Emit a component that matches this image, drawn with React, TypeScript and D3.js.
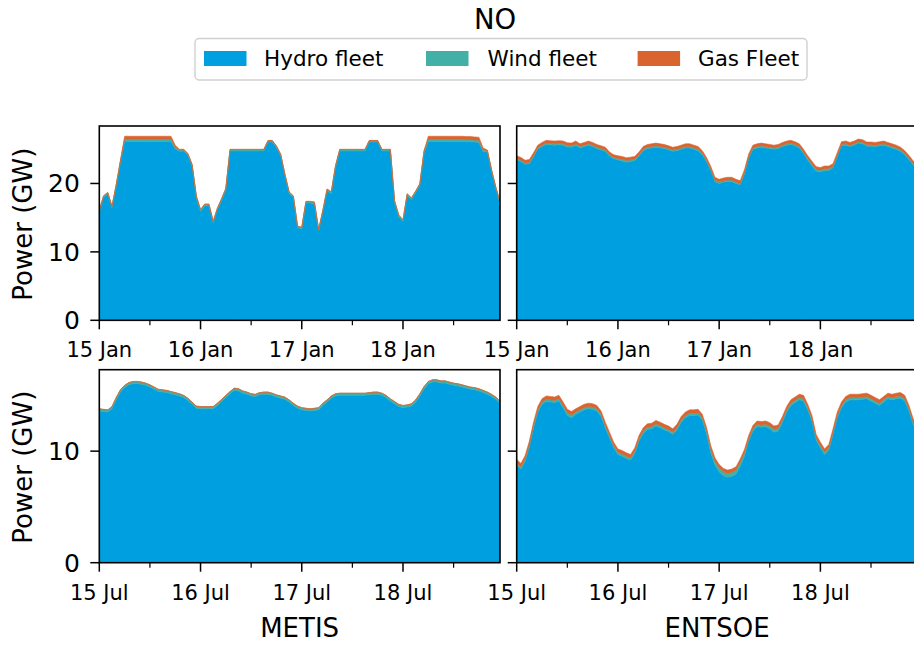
import React from "react";
import * as d3 from "d3";

// ---------- data (GW, hourly from 00:00 of the first day) ----------
const SERIES_NAMES = ["Hydro fleet", "Wind fleet", "Gas Fleet"];
const SERIES_KEYS = ["hydro", "wind", "gas"];
const SERIES_COLORS = ["#00a0e0", "#43b0a8", "#da6430"];

const ROW_STARTS = ["2015-01-15T00:00:00Z", "2015-07-15T00:00:00Z"];
const COL_LABELS = ["METIS", "ENTSOE"];
const ROW_Y_MAX = [28.4, 17.3];
const ROW_Y_TICKS = [[0, 10, 20], [0, 10]];

// January, METIS
const JAN_METIS_HYDRO = [
  15.85, 17.95, 18.45, 16.45, 19.55, 23.0, 26.15, 26.15, 26.15, 26.15, 26.15, 26.15,
  26.15, 26.15, 26.15, 26.15, 26.15, 26.15, 25.05, 24.7, 24.75, 24.15, 22.55, 17.95,
  15.95, 16.75, 16.75, 14.25, 16.15, 17.55, 19.05, 24.75, 24.75, 24.75, 24.75, 24.75,
  24.75, 24.75, 24.75, 24.75, 26.05, 26.05, 25.25, 24.05, 21.15, 18.55, 17.95, 13.55,
  13.35, 17.15, 17.15, 17.05, 13.05, 15.85, 18.95, 18.55, 22.35, 24.75, 24.75, 24.75,
  24.75, 24.75, 24.75, 24.75, 26.05, 26.05, 26.05, 24.75, 24.75, 24.75, 17.25, 15.15,
  14.45, 18.25, 17.65, 18.65, 19.75, 24.5, 26.15, 26.15, 26.15, 26.15, 26.15, 26.15,
  26.15, 26.15, 26.15, 26.1, 26.1, 26.05, 26.0, 24.65, 24.6, 21.75, 19.25, 17.15,
];
const JAN_METIS_WIND = [
  0.2, 0.2, 0.2, 0.2, 0.2, 0.25, 0.3, 0.3, 0.3, 0.3, 0.3, 0.3,
  0.3, 0.3, 0.3, 0.3, 0.3, 0.3, 0.25, 0.2, 0.2, 0.2, 0.2, 0.2,
  0.2, 0.2, 0.2, 0.2, 0.2, 0.2, 0.2, 0.2, 0.2, 0.2, 0.2, 0.2,
  0.2, 0.2, 0.2, 0.2, 0.2, 0.2, 0.2, 0.2, 0.2, 0.2, 0.2, 0.2,
  0.2, 0.2, 0.2, 0.2, 0.2, 0.2, 0.2, 0.2, 0.2, 0.2, 0.2, 0.2,
  0.2, 0.2, 0.2, 0.2, 0.2, 0.2, 0.2, 0.2, 0.2, 0.2, 0.2, 0.2,
  0.2, 0.2, 0.2, 0.2, 0.2, 0.25, 0.3, 0.3, 0.3, 0.3, 0.3, 0.3,
  0.3, 0.3, 0.3, 0.3, 0.3, 0.3, 0.3, 0.25, 0.2, 0.2, 0.2, 0.2,
];
const JAN_METIS_GAS = [
  0.05, 0.05, 0.05, 0.05, 0.05, 0.05, 0.45, 0.45, 0.45, 0.45, 0.45, 0.45,
  0.45, 0.45, 0.45, 0.45, 0.45, 0.45, 0.3, 0.1, 0.05, 0.05, 0.05, 0.05,
  0.05, 0.05, 0.05, 0.05, 0.05, 0.05, 0.05, 0.05, 0.05, 0.05, 0.05, 0.05,
  0.05, 0.05, 0.05, 0.05, 0.05, 0.05, 0.05, 0.05, 0.05, 0.05, 0.05, 0.05,
  0.05, 0.05, 0.05, 0.05, 0.05, 0.05, 0.05, 0.05, 0.05, 0.05, 0.05, 0.05,
  0.05, 0.05, 0.05, 0.05, 0.05, 0.05, 0.05, 0.05, 0.05, 0.05, 0.05, 0.05,
  0.05, 0.05, 0.05, 0.05, 0.05, 0.05, 0.45, 0.45, 0.45, 0.45, 0.45, 0.45,
  0.45, 0.45, 0.45, 0.45, 0.45, 0.45, 0.45, 0.3, 0.1, 0.05, 0.05, 0.05,
];

// January, ENTSOE
const JAN_ENTSOE_HYDRO = [
  23.45, 23.2, 22.8, 22.9, 23.9, 25.0, 25.4, 25.7, 25.65, 25.6, 25.65, 25.6,
  25.35, 25.3, 25.6, 25.2, 25.4, 25.6, 25.4, 25.1, 24.9, 24.7, 24.0, 23.6,
  23.45, 23.3, 23.1, 23.2, 23.35, 24.0, 24.8, 25.1, 25.2, 25.3, 25.2, 25.1,
  24.9, 24.7, 24.8, 25.0, 25.2, 25.2, 25.0, 24.8, 24.2, 23.2, 21.9, 20.3,
  20.0, 20.2, 20.3, 20.3, 20.0, 19.8, 21.4, 23.7, 25.0, 25.2, 25.3, 25.2,
  25.1, 25.0, 25.1, 25.4, 25.6, 25.7, 25.5, 25.2, 24.4, 23.4, 22.6, 21.8,
  21.7, 21.9, 21.9, 22.3, 23.9, 25.5, 25.6, 25.4, 25.6, 25.9, 25.8, 25.45,
  25.45, 25.4, 25.5, 25.6, 25.4, 25.2, 25.0, 24.7, 24.2, 23.5, 22.7, 22.2,
];
const JAN_ENTSOE_WIND = [
  0.2, 0.2, 0.2, 0.2, 0.2, 0.2, 0.2, 0.2, 0.2, 0.2, 0.2, 0.2,
  0.2, 0.2, 0.2, 0.2, 0.2, 0.2, 0.2, 0.2, 0.2, 0.2, 0.2, 0.2,
  0.2, 0.25, 0.25, 0.25, 0.2, 0.2, 0.2, 0.2, 0.2, 0.2, 0.2, 0.2,
  0.2, 0.2, 0.2, 0.2, 0.2, 0.2, 0.2, 0.2, 0.2, 0.2, 0.2, 0.2,
  0.2, 0.2, 0.2, 0.2, 0.2, 0.2, 0.2, 0.2, 0.2, 0.2, 0.2, 0.2,
  0.2, 0.2, 0.2, 0.2, 0.2, 0.2, 0.2, 0.2, 0.2, 0.25, 0.25, 0.25,
  0.25, 0.25, 0.25, 0.2, 0.2, 0.2, 0.2, 0.2, 0.2, 0.2, 0.2, 0.2,
  0.2, 0.2, 0.2, 0.2, 0.2, 0.2, 0.2, 0.2, 0.2, 0.2, 0.2, 0.2,
];
const JAN_ENTSOE_GAS = [
  0.4, 0.4, 0.4, 0.4, 0.4, 0.4, 0.4, 0.4, 0.4, 0.4, 0.4, 0.4,
  0.4, 0.4, 0.4, 0.4, 0.4, 0.4, 0.4, 0.4, 0.4, 0.4, 0.4, 0.4,
  0.4, 0.4, 0.4, 0.4, 0.4, 0.4, 0.4, 0.4, 0.4, 0.4, 0.4, 0.4,
  0.4, 0.4, 0.4, 0.4, 0.4, 0.4, 0.4, 0.4, 0.4, 0.4, 0.4, 0.4,
  0.4, 0.4, 0.4, 0.4, 0.4, 0.4, 0.4, 0.4, 0.4, 0.4, 0.4, 0.4,
  0.4, 0.4, 0.4, 0.4, 0.4, 0.4, 0.4, 0.4, 0.4, 0.4, 0.4, 0.4,
  0.4, 0.4, 0.4, 0.4, 0.4, 0.4, 0.4, 0.4, 0.4, 0.4, 0.4, 0.4,
  0.4, 0.4, 0.4, 0.4, 0.4, 0.4, 0.4, 0.4, 0.4, 0.4, 0.4, 0.4,
];

// July, METIS
const JUL_METIS_HYDRO = [
  13.6, 13.55, 13.5, 13.8, 14.6, 15.3, 15.7, 15.95, 16.05, 16.05, 16.0, 15.9,
  15.75, 15.55, 15.35, 15.3, 15.25, 15.15, 15.05, 14.95, 14.8, 14.55, 14.2, 13.85,
  13.8, 13.8, 13.8, 13.8, 14.1, 14.45, 14.8, 15.15, 15.45, 15.4, 15.2, 15.1,
  14.95, 14.9, 15.05, 15.1, 15.1, 15.0, 14.85, 14.75, 14.65, 14.4, 14.1, 13.85,
  13.7, 13.65, 13.6, 13.65, 13.7, 14.1, 14.4, 14.75, 14.95, 15.0, 15.0, 15.0,
  15.0, 15.0, 15.0, 15.0, 15.05, 15.1, 15.1, 15.0, 14.8, 14.5, 14.25, 14.0,
  13.9, 13.95, 14.05, 14.4, 14.95, 15.6, 16.05, 16.2, 16.2, 16.1, 16.1, 16.0,
  15.9, 15.85, 15.75, 15.65, 15.55, 15.5, 15.4, 15.25, 15.1, 14.9, 14.65, 14.3,
];
const JUL_METIS_WIND = [
  0.18, 0.18, 0.18, 0.18, 0.18, 0.18, 0.18, 0.18, 0.18, 0.18, 0.18, 0.18,
  0.18, 0.18, 0.18, 0.18, 0.18, 0.18, 0.18, 0.18, 0.18, 0.18, 0.18, 0.18,
  0.18, 0.18, 0.18, 0.18, 0.18, 0.18, 0.18, 0.18, 0.18, 0.18, 0.18, 0.18,
  0.18, 0.18, 0.18, 0.18, 0.18, 0.18, 0.18, 0.18, 0.18, 0.18, 0.18, 0.18,
  0.18, 0.18, 0.18, 0.18, 0.18, 0.18, 0.18, 0.18, 0.18, 0.18, 0.18, 0.18,
  0.18, 0.18, 0.18, 0.18, 0.18, 0.18, 0.18, 0.18, 0.18, 0.18, 0.18, 0.18,
  0.18, 0.18, 0.18, 0.18, 0.18, 0.18, 0.18, 0.18, 0.18, 0.18, 0.18, 0.18,
  0.18, 0.18, 0.18, 0.18, 0.18, 0.18, 0.18, 0.18, 0.18, 0.18, 0.18, 0.18,
];
const JUL_METIS_GAS = [
  0.02, 0.02, 0.02, 0.02, 0.02, 0.02, 0.02, 0.02, 0.02, 0.02, 0.02, 0.02,
  0.02, 0.02, 0.02, 0.02, 0.02, 0.02, 0.02, 0.02, 0.02, 0.02, 0.02, 0.02,
  0.02, 0.02, 0.02, 0.02, 0.02, 0.02, 0.02, 0.02, 0.02, 0.02, 0.02, 0.02,
  0.02, 0.02, 0.02, 0.02, 0.02, 0.02, 0.02, 0.02, 0.02, 0.02, 0.02, 0.02,
  0.02, 0.02, 0.02, 0.02, 0.02, 0.02, 0.02, 0.02, 0.02, 0.02, 0.02, 0.02,
  0.02, 0.02, 0.02, 0.02, 0.02, 0.02, 0.02, 0.02, 0.02, 0.02, 0.02, 0.02,
  0.02, 0.02, 0.02, 0.02, 0.02, 0.02, 0.02, 0.02, 0.02, 0.02, 0.02, 0.02,
  0.02, 0.02, 0.02, 0.02, 0.02, 0.02, 0.02, 0.02, 0.02, 0.02, 0.02, 0.02,
];

// July, ENTSOE
const JUL_ENTSOE_HYDRO = [
  8.76, 8.4, 9.1, 10.4, 12.1, 13.5, 14.2, 14.45, 14.4, 14.35, 14.5, 13.9,
  13.2, 13.0, 13.3, 13.5, 13.7, 13.8, 13.75, 13.6, 13.1, 12.1, 11.2, 10.3,
  9.7, 9.55, 9.35, 9.2, 9.8, 10.9, 11.6, 11.95, 12.0, 12.25, 12.1, 11.9,
  11.75, 11.5, 11.9, 12.6, 13.0, 13.2, 13.2, 13.25, 12.8, 11.6, 9.85, 8.75,
  8.15, 7.8, 7.65, 7.75, 7.95, 8.65, 9.55, 10.9, 11.8, 12.2, 12.15, 12.2,
  12.0, 11.7, 11.8, 12.6, 13.5, 14.1, 14.35, 14.6, 14.5, 13.7, 12.7, 11.0,
  10.3, 9.7, 10.1, 11.5, 13.0, 13.9, 14.4, 14.6, 14.6, 14.6, 14.65, 14.7,
  14.5, 14.3, 14.1, 14.4, 14.7, 14.6, 14.7, 14.75, 14.5, 13.6, 12.4, 11.8,
];
const JUL_ENTSOE_WIND = [
  0.2, 0.2, 0.2, 0.2, 0.2, 0.2, 0.2, 0.2, 0.2, 0.2, 0.2, 0.2,
  0.25, 0.25, 0.2, 0.2, 0.2, 0.2, 0.2, 0.2, 0.2, 0.2, 0.2, 0.2,
  0.2, 0.2, 0.2, 0.2, 0.2, 0.2, 0.2, 0.2, 0.2, 0.2, 0.2, 0.2,
  0.2, 0.2, 0.2, 0.2, 0.2, 0.2, 0.2, 0.2, 0.2, 0.25, 0.35, 0.35,
  0.35, 0.35, 0.35, 0.35, 0.35, 0.35, 0.3, 0.2, 0.2, 0.2, 0.2, 0.2,
  0.25, 0.25, 0.25, 0.2, 0.2, 0.2, 0.2, 0.2, 0.2, 0.2, 0.2, 0.2,
  0.2, 0.2, 0.2, 0.2, 0.2, 0.2, 0.2, 0.2, 0.2, 0.2, 0.2, 0.2,
  0.2, 0.2, 0.2, 0.2, 0.2, 0.2, 0.2, 0.2, 0.2, 0.2, 0.2, 0.2,
];
const JUL_ENTSOE_GAS = [
  0.3, 0.3, 0.3, 0.3, 0.3, 0.3, 0.3, 0.3, 0.3, 0.3, 0.3, 0.3,
  0.3, 0.3, 0.3, 0.3, 0.3, 0.3, 0.3, 0.3, 0.3, 0.3, 0.3, 0.3,
  0.3, 0.3, 0.3, 0.3, 0.3, 0.3, 0.3, 0.3, 0.3, 0.3, 0.3, 0.3,
  0.3, 0.3, 0.3, 0.3, 0.3, 0.3, 0.3, 0.3, 0.3, 0.3, 0.3, 0.3,
  0.3, 0.3, 0.3, 0.3, 0.3, 0.3, 0.3, 0.3, 0.3, 0.3, 0.3, 0.3,
  0.3, 0.3, 0.3, 0.3, 0.3, 0.3, 0.3, 0.3, 0.3, 0.3, 0.3, 0.3,
  0.3, 0.3, 0.3, 0.3, 0.3, 0.3, 0.3, 0.3, 0.3, 0.3, 0.3, 0.3,
  0.3, 0.3, 0.3, 0.3, 0.3, 0.3, 0.3, 0.3, 0.3, 0.3, 0.3, 0.3,
];

const PANEL_DATA = [
  [[JAN_METIS_HYDRO, JAN_METIS_WIND, JAN_METIS_GAS], [JAN_ENTSOE_HYDRO, JAN_ENTSOE_WIND, JAN_ENTSOE_GAS]],
  [[JUL_METIS_HYDRO, JUL_METIS_WIND, JUL_METIS_GAS], [JUL_ENTSOE_HYDRO, JUL_ENTSOE_WIND, JUL_ENTSOE_GAS]],
];

// ---------- layout ----------
const W = 914;
const H = 648;
const FONT = "DejaVu Sans, sans-serif";
const COL_X = [99.3, 516.7];
const PANEL_W = 400.7;
const ROW_Y = [
  [126, 320.3],
  [369.7, 562.7],
];
const HOUR = 3600 * 1000;

function Panel({ row, col }: { row: number; col: number }) {
  const [hydro, wind, gas] = PANEL_DATA[row][col];
  const start = new Date(ROW_STARTS[row]).getTime();
  const rows = hydro.map((h, i) => ({
    t: new Date(start + i * HOUR),
    hydro: h,
    wind: wind[i],
    gas: gas[i],
  }));
  const x0 = COL_X[col];
  const x1 = x0 + PANEL_W;
  const [yt, yb] = ROW_Y[row];
  const x = d3
    .scaleUtc()
    .domain([new Date(start), new Date(start + (hydro.length - 1) * HOUR)])
    .range([x0, x1]);
  const y = d3.scaleLinear().domain([0, ROW_Y_MAX[row]]).range([yb, yt]);
  const stack = d3.stack<any>().keys(SERIES_KEYS);
  const layers = stack(rows);
  const area = d3
    .area<any>()
    .x((d) => x(d.data.t))
    .y0((d) => y(d[0]))
    .y1((d) => y(d[1]));
  const [d0, d1] = x.domain();
  const major = d3.utcDay.range(d0, new Date(+d1 + 1)).filter((d) => d >= d0 && d <= d1);
  const minor = d3
    .utcHour.every(12)!
    .range(d0, new Date(+d1 + 1))
    .filter((d) => d.getUTCHours() === 12);
  const fmt = d3.utcFormat("%d %b");
  const clipId = `clip-${row}-${col}`;
  const yTicks = ROW_Y_TICKS[row];
  return (
    <g>
      <defs>
        <clipPath id={clipId}>
          <rect x={x0} y={yt} width={PANEL_W} height={yb - yt} />
        </clipPath>
      </defs>
      <g clipPath={`url(#${clipId})`}>
        {layers.map((layer, i) => (
          <path
            key={i}
            d={area(layer as any) || ""}
            fill={SERIES_COLORS[i]}
            stroke={SERIES_COLORS[i]}
            strokeWidth={0.6}
          />
        ))}
      </g>
      <rect x={x0} y={yt} width={PANEL_W} height={yb - yt} fill="none" stroke="#000" strokeWidth={1.6} />
      {major.map((d, i) => (
        <g key={"M" + i}>
          <line x1={x(d)} x2={x(d)} y1={yb} y2={yb + 9} stroke="#000" strokeWidth={1.5} />
          <text x={x(d)} y={yb + 37} textAnchor="middle" fontSize={21} fontFamily={FONT} fill="#000">
            {fmt(d)}
          </text>
        </g>
      ))}
      {minor.map((d, i) => (
        <line key={"m" + i} x1={x(d)} x2={x(d)} y1={yb} y2={yb + 5} stroke="#000" strokeWidth={1.2} />
      ))}
      {yTicks.map((v) => (
        <g key={"y" + v}>
          <line x1={x0 - 9} x2={x0} y1={y(v)} y2={y(v)} stroke="#000" strokeWidth={1.5} />
          {col === 0 && (
            <text
              x={x0 - 19.5}
              y={y(v)}
              dy="0.36em"
              textAnchor="end"
              fontSize={25}
              fontFamily={FONT}
              fill="#000"
            >
              {v}
            </text>
          )}
        </g>
      ))}
      {col === 0 && (
        <text
          transform={`translate(31.5, ${(yt + yb) / 2 + 1}) rotate(-90)`}
          textAnchor="middle"
          fontSize={26}
          fontFamily={FONT}
          fill="#000"
        >
          Power (GW)
        </text>
      )}
      {row === 1 && (
        <text x={(x0 + x1) / 2} y={637.3} textAnchor="middle" fontSize={26} fontFamily={FONT} fill="#000">
          {COL_LABELS[col]}
        </text>
      )}
    </g>
  );
}

function Legend() {
  const patchX = [204, 426, 637.6];
  const textX = [264, 487.6, 698];
  return (
    <g>
      <rect x={195} y={38.5} width={612} height={41.5} rx={4} ry={4} fill="#fff" stroke="#d0d0d0" strokeWidth={1.4} />
      {SERIES_NAMES.map((name, i) => (
        <g key={name}>
          <rect x={patchX[i]} y={51} width={42.5} height={15} fill={SERIES_COLORS[i]} />
          <text x={textX[i]} y={65.7} fontSize={21.5} fontFamily={FONT} fill="#000">
            {name}
          </text>
        </g>
      ))}
    </g>
  );
}

export default function App() {
  return (
    <svg
      width={W}
      height={H}
      viewBox={`0 0 ${W} ${H}`}
      style={{ position: "absolute", left: 0, top: 0, background: "#fff" }}
    >
      <rect x={0} y={0} width={W} height={H} fill="#fff" />
      <text x={495} y={29.3} textAnchor="middle" fontSize={27.5} fontFamily={FONT} fill="#000">
        NO
      </text>
      <Legend />
      {[0, 1].map((r) => [0, 1].map((c) => <Panel key={`${r}-${c}`} row={r} col={c} />))}
    </svg>
  );
}
